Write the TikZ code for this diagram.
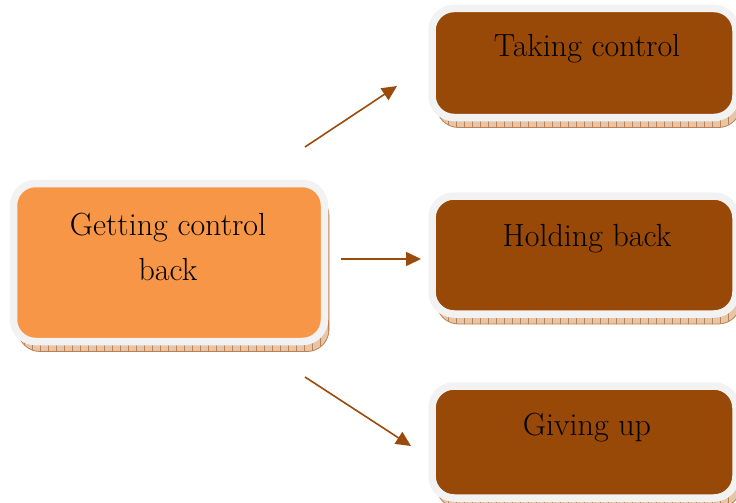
\documentclass[tikz,border=0pt]{standalone}
\usetikzlibrary{arrows.meta,patterns.meta}

\definecolor{lightorange}{HTML}{F79646}
\definecolor{darkbrown}{HTML}{984807}
\definecolor{rimgray}{HTML}{F2F2F2}
\definecolor{shadowtan}{HTML}{E6C6AA}
\definecolor{shadowline}{HTML}{BF8050}
\definecolor{arrowbrown}{HTML}{9A4A0A}

\tikzset{
  boxshadow/.style={
    preaction={fill=shadowtan, draw=shadowline, line width=0.8pt,
                transform canvas={shift={(4.5pt,-10pt)}}},
    preaction={pattern={Lines[angle=90,distance=8pt,line width=0.5pt]},
               pattern color=shadowline,
               transform canvas={shift={(4.5pt,-10pt)}}}},
  roundbox/.style={boxshadow, rectangle, rounded corners=22pt,
    draw=rimgray, line width=7.5pt, inner sep=0pt},
  srcbox/.style={roundbox, fill=lightorange},
  dstbox/.style={roundbox, fill=darkbrown},
  boxtext/.style={anchor=base, inner sep=0pt, align=center,
    font=\fontsize{32}{45}\selectfont},
  link/.style={draw=arrowbrown, line width=1.6pt,
    -{Triangle[length=15pt,width=14pt]}}
}

\begin{document}
\begin{tikzpicture}[x=1pt,y=-1pt]
\useasboundingbox (0,0) rectangle (736,503);
\clip (0,0) rectangle (736,503);

% boxes
\node[srcbox, minimum width=311pt, minimum height=158pt] (get) at (169,262.5) {};
\node[dstbox, minimum width=304pt, minimum height=109pt] (take) at (584,63) {};
\node[dstbox, minimum width=304pt, minimum height=118pt] (hold) at (584,255) {};
\node[dstbox, minimum width=304pt, minimum height=112pt] (give) at (584,442) {};

% labels (base anchor sits on the last line)
\node[boxtext] (getlbl) at (168,280) {Getting control\\back};
\node[boxtext] (takelbl) at (587,57) {Taking control};
\node[boxtext] (holdlbl) at (587,246) {Holding back};
\node[boxtext] (givelbl) at (587,435) {Giving up};

% arrow end points
\coordinate (a1s) at (305,147);
\coordinate (a1e) at (397,86);
\coordinate (a2s) at (341,259);
\coordinate (a2e) at (421,259);
\coordinate (a3s) at (305,377);
\coordinate (a3e) at (411,446);

\draw[link] (a1s) -- (a1e);
\draw[link] (a2s) -- (a2e);
\draw[link] (a3s) -- (a3e);
\end{tikzpicture}
\end{document}
